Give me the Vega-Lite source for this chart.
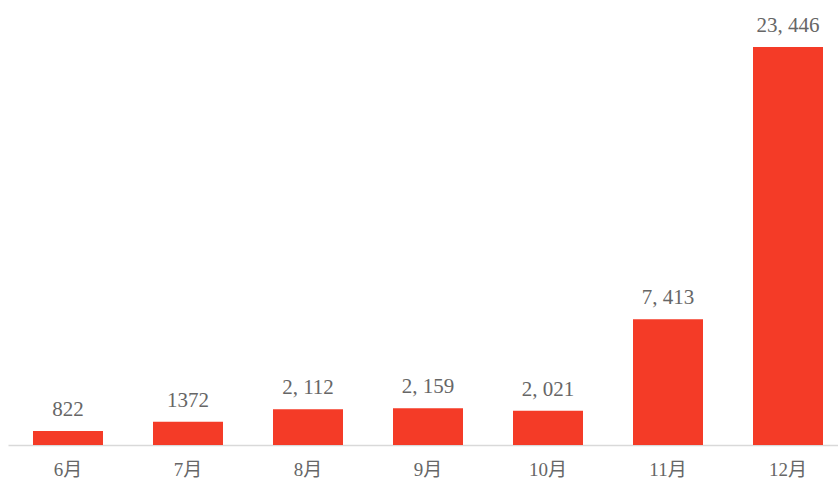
{
  "$schema": "https://vega.github.io/schema/vega-lite/v6.json",
  "width": 840,
  "height": 445,
  "autosize": "none",
  "padding": {"left": 8, "top": 0, "right": 0, "bottom": 38},
  "background": "white",
  "config": {
    "view": {"stroke": null},
    "font": "Liberation Serif, Noto Sans CJK SC"
  },
  "data": {
    "values": [
      {"month": "6月", "value": 822, "label": "822"},
      {"month": "7月", "value": 1372, "label": "1372"},
      {"month": "8月", "value": 2112, "label": "2, 112"},
      {"month": "9月", "value": 2159, "label": "2, 159"},
      {"month": "10月", "value": 2021, "label": "2, 021"},
      {"month": "11月", "value": 7413, "label": "7, 413"},
      {"month": "12月", "value": 23446, "label": "23, 446"}
    ]
  },
  "encoding": {
    "x": {
      "field": "month",
      "type": "nominal",
      "sort": null,
      "scale": {"paddingInner": 0.4167, "paddingOuter": 0.2083},
      "axis": {
        "title": null,
        "labelAngle": 0,
        "ticks": false,
        "domainColor": "#d9d9d9",
        "domainWidth": 1.5,
        "labelColor": "#666666",
        "labelFontSize": 19,
        "labelPadding": 15,
        "labelFont": "Liberation Serif, Noto Sans CJK SC"
      }
    },
    "y": {
      "field": "value",
      "type": "quantitative",
      "scale": {"domain": [0, 26215], "nice": false},
      "axis": null
    }
  },
  "layer": [
    {"mark": {"type": "bar", "color": "#F43B27"}},
    {
      "mark": {
        "type": "text",
        "baseline": "alphabetic",
        "dy": -15,
        "fontSize": 21,
        "color": "#666666",
        "font": "Liberation Serif"
      },
      "encoding": {"text": {"field": "label"}}
    }
  ]
}
